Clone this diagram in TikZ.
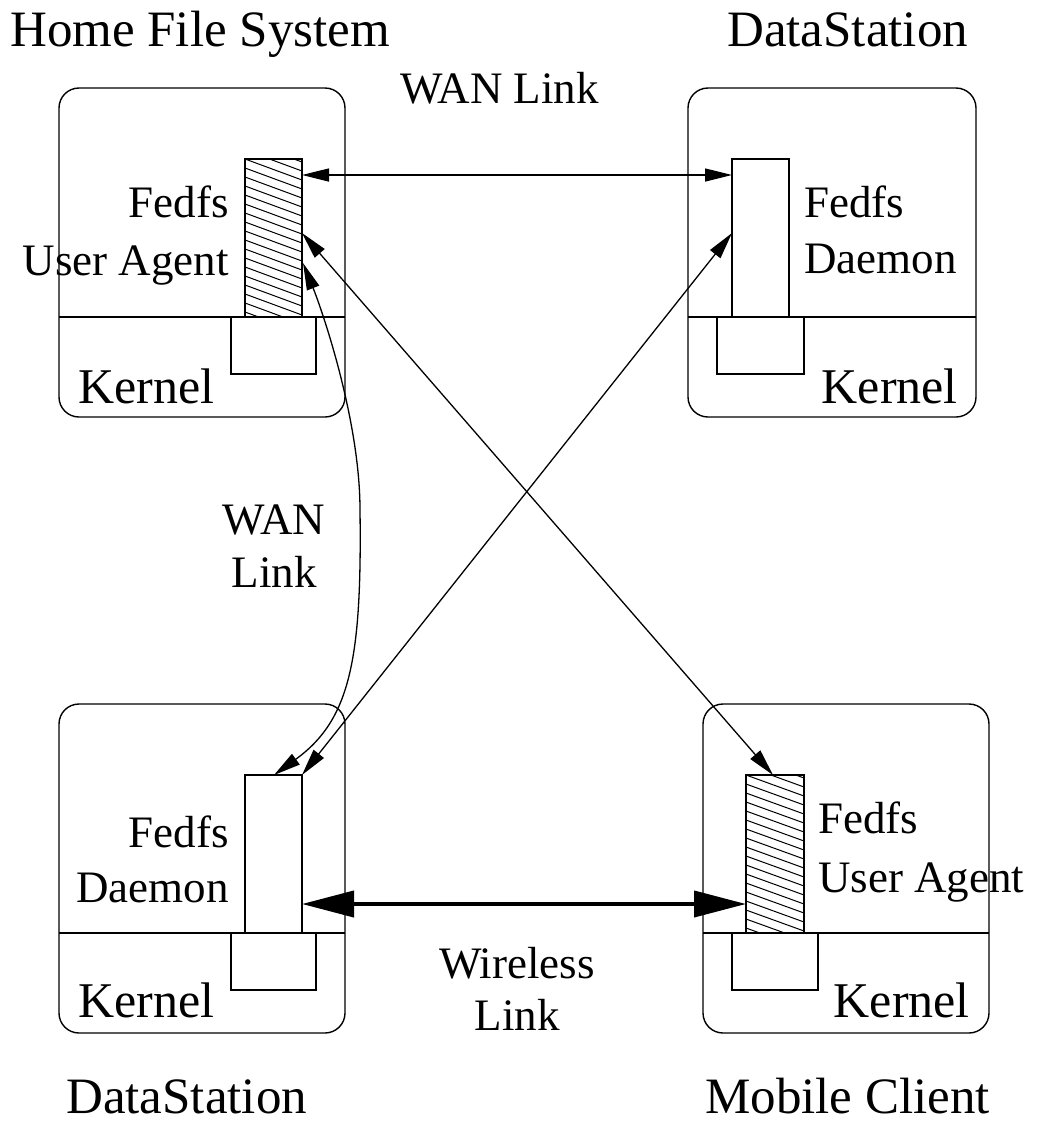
\documentclass[tikz,border=0pt]{standalone}
\usepackage{fontspec}
\setmainfont{Liberation Serif}
\usetikzlibrary{arrows.meta}
\begin{document}
\begin{tikzpicture}[x=1pt,y=-1pt,
  host/.style={draw, line width=1.4pt, rounded corners=20pt, inner sep=0pt, outer sep=0pt},
  module/.style={draw, line width=1.4pt, fill=white, inner sep=0pt, outer sep=0pt},
  divider/.style={line width=1.4pt},
  hatch/.style={line width=1pt},
  title/.style={font=\fontsize{51}{60}\selectfont, inner sep=0pt},
  kern/.style={font=\fontsize{50}{60}\selectfont, inner sep=0pt},
  lbl/.style={font=\fontsize{45}{54}\selectfont, inner sep=0pt},
  link/.style={line width=1.3pt, {Triangle[length=27pt,width=13pt]}-{Triangle[length=27pt,width=13pt]}},
  wireless/.style={line width=4pt, {Triangle[length=52pt,width=26pt]}-{Triangle[length=52pt,width=26pt]}},
]
\useasboundingbox (0,0) rectangle (1038,1128);

% ---- host machines ----
\node[host, minimum width=286pt, minimum height=329pt] (hfs) at (202,252.5) {};
\node[host, minimum width=288pt, minimum height=329pt] (dsa) at (832,252.5) {};
\node[host, minimum width=286pt, minimum height=329pt] (dsb) at (202,868.5) {};
\node[host, minimum width=286pt, minimum height=329pt] (mob) at (846,868.5) {};

% user space / kernel boundaries
\draw[divider] (59,317) -- (345,317);
\draw[divider] (688,317) -- (976,317);
\draw[divider] (59,933) -- (345,933);
\draw[divider] (703,933) -- (989,933);

% ---- kernel modules ----
\node[module, minimum width=85pt, minimum height=57pt] (hfsk) at (273.5,345.5) {};
\node[module, minimum width=87pt, minimum height=57pt] (dsak) at (760.5,345.5) {};
\node[module, minimum width=85pt, minimum height=57pt] (dsbk) at (273.5,961.5) {};
\node[module, minimum width=86pt, minimum height=57pt] (mobk) at (775,961.5) {};

% ---- user level processes ----
\node[module, minimum width=57pt, minimum height=158pt] (hfsua) at (273.5,238) {};
\node[module, minimum width=57pt, minimum height=158pt] (dsad) at (760.5,238) {};
\node[module, minimum width=57pt, minimum height=158pt] (dsbd) at (273.5,854) {};
\node[module, minimum width=58pt, minimum height=158pt] (mobua) at (775,854) {};

% hatching of the user agents
\begin{scope}
  \clip (245,159) rectangle (302,317);
  \foreach \k in {-3,...,18} \draw[hatch] (245,{159+9*\k}) -- ++(57,21);
\end{scope}
\draw[line width=1.4pt] (245,159) rectangle (302,317);
\begin{scope}
  \clip (746,775) rectangle (804,933);
  \foreach \k in {-3,...,18} \draw[hatch] (746,{775+9*\k}) -- ++(58,21);
\end{scope}
\draw[line width=1.4pt] (746,775) rectangle (804,933);

% ---- texts ----
\node[title, anchor=base west] (t1) at (10,46) {Home File System};
\node[title, anchor=base west] (t2) at (727,46) {DataStation};
\node[title, anchor=base west] (t3) at (66,1113) {DataStation};
\node[title, anchor=base west] (t4) at (705,1113) {Mobile Client};

\node[lbl, anchor=base east] (l1a) at (229,217) {Fedfs};
\node[lbl, anchor=base east] (l1b) at (229,275) {User Agent};
\node[kern, anchor=base west] (k1) at (78,403) {Kernel};

\node[lbl, anchor=base west] (l2a) at (804,217) {Fedfs};
\node[lbl, anchor=base west] (l2b) at (804,273) {Daemon};
\node[kern, anchor=base east] (k2) at (958,403) {Kernel};

\node[lbl, anchor=base east] (l3a) at (229,847) {Fedfs};
\node[lbl, anchor=base east] (l3b) at (229,902) {Daemon};
\node[kern, anchor=base west] (k3) at (78,1017) {Kernel};

\node[lbl, anchor=base west] (l4a) at (818,833) {Fedfs};
\node[lbl, anchor=base west] (l4b) at (818,892) {User Agent};
\node[kern, anchor=base east] (k4) at (970,1017) {Kernel};

\node[lbl, anchor=base west] (w1) at (400,103) {WAN Link};
\node[lbl, anchor=base] (w2a) at (274,534) {WAN};
\node[lbl, anchor=base] (w2b) at (274,587) {Link};
\node[lbl, anchor=base] (w3a) at (517,978) {Wireless};
\node[lbl, anchor=base] (w3b) at (517,1030) {Link};

% ---- connector end points on the processes ----
\coordinate (ua1) at (302,175);
\coordinate (ua2) at (302,233);
\coordinate (ua3) at (303,263);
\coordinate (da1) at (732,175);
\coordinate (da2) at (732,233);
\coordinate (db1) at (302,775);
\coordinate (db2) at (274,775);
\coordinate (db3) at (302,904);
\coordinate (mu1) at (773,775);
\coordinate (mu2) at (746,904);
\coordinate (bend) at (360,510);

% ---- links ----
\draw[link] (ua1) -- (da1);
\draw[link] (ua2) -- (mu1);
\draw[link] (da2) -- (db1);
\draw[link] (ua3) .. controls (322,310) and (360,420) .. (bend)
                  .. controls (362,660) and (350,720) .. (db2);
\draw[wireless] (db3) -- (mu2);
\end{tikzpicture}
\end{document}
